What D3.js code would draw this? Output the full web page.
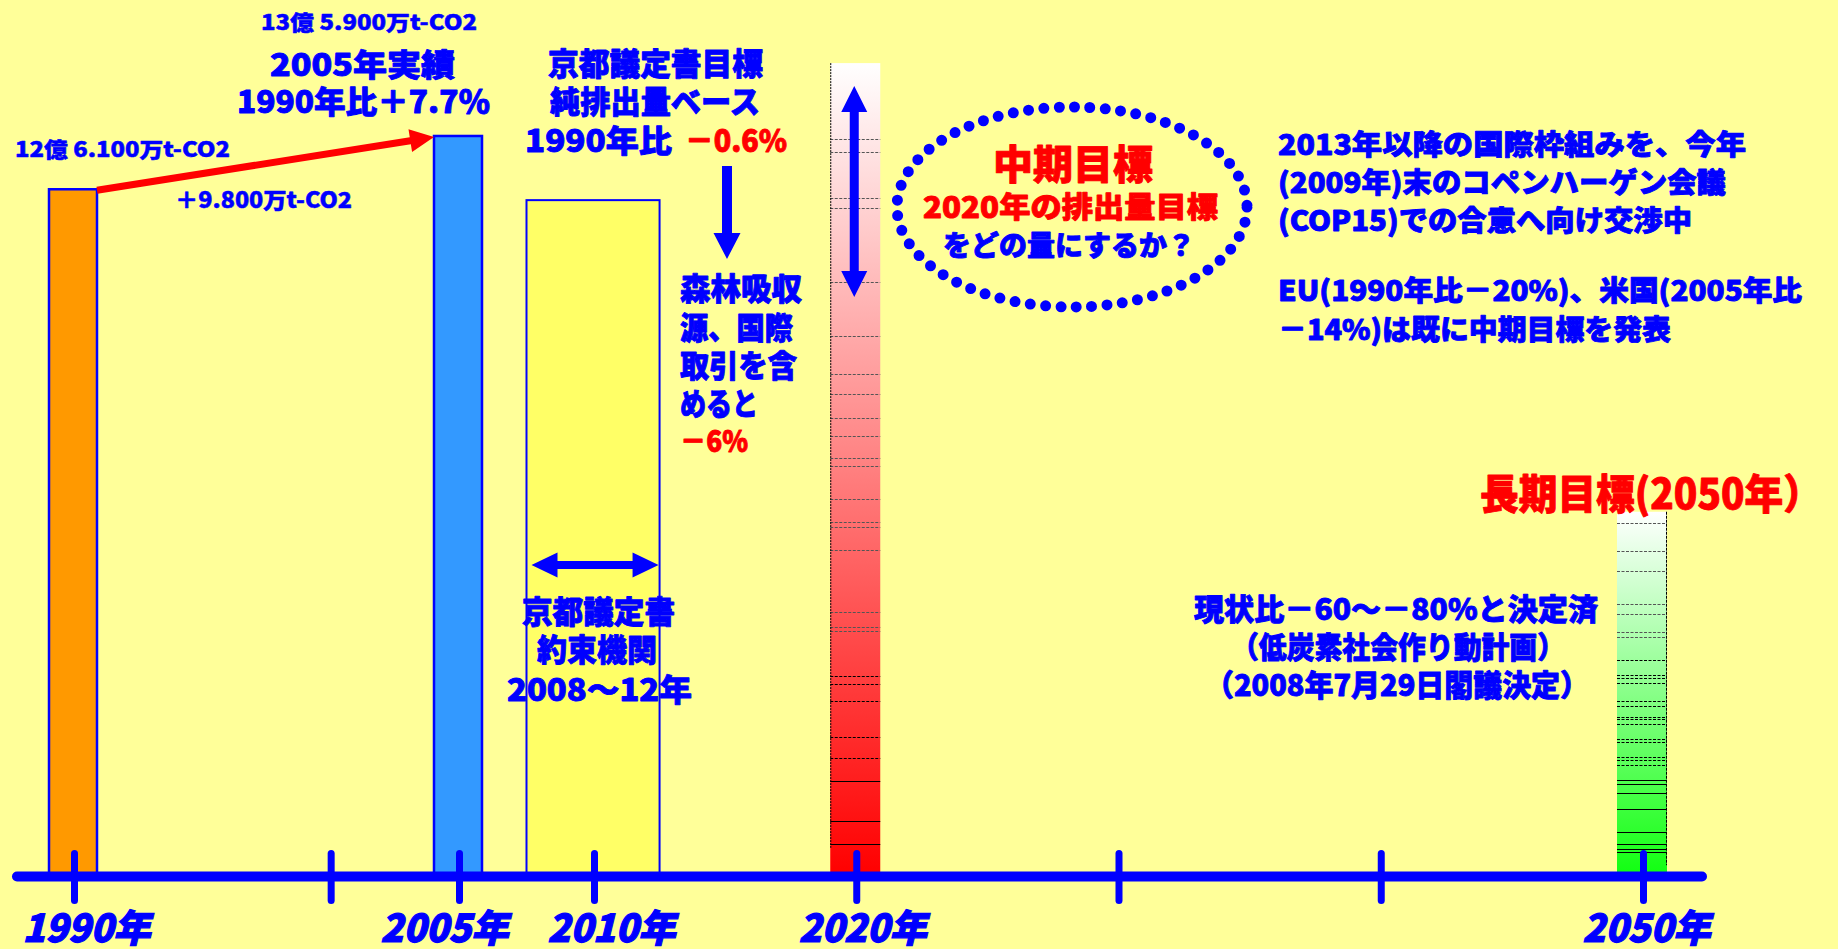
<!DOCTYPE html>
<html>
<head>
<meta charset="utf-8">
<script src="https://cdn.jsdelivr.net/npm/d3@7"></script>
<style>
  html, body { margin: 0; padding: 0; background: #FFFF99; }
  svg { display: block; }
</style>
</head>
<body>
<div id="chart"></div>
<script>
// emissions, million t-CO2
const emissionYears = [1990, 2005];
const emissionValues = [1261, 1359];
const emissionColors = ["#FF9900", "#3399FF"];

// Kyoto commitment period and its net target
const kyotoPeriod = [2007.5, 2012.5];
const kyotoTarget = 1241;

// mid term (2020) and long term (2050) target columns
const targetYears = [2020, 2050];
const targetTops = [1493, 668];
const targetColors = ["#FF0000", "#11FF11"];

// stripe lines seen inside the gradient columns
const midStripes = [1353, 1330, 1245, 1227, 1090, 991, 921, 885, 840, 807, 767, 752, 691, 649, 640, 598,
  484, 456, 449, 366, 351, 320, 254, 215, 173, 99, 57];
const longStripes = [647, 596, 559, 498, 480, 447, 438, 395, 368, 362, 353, 320, 311, 291, 287, 278,
  250, 245, 217, 211, 202, 175, 167, 151, 121, 79, 57, 48, 42];

const tickYears = [1990, 2000, 2005, 2010, 2020, 2030, 2040, 2050];
const labelYears = [1990, 2005, 2010, 2020, 2050];

const W = 1838, H = 949;
const BLUE = "#0000FF", RED = "#FF0000";
const FONT = '"Noto Sans CJK JP", "Noto Sans", sans-serif';

const svg = d3.select("#chart").append("svg")
  .attr("width", W).attr("height", H)
  .style("font-family", FONT)
  .style("font-weight", 900);

svg.append("rect").attr("width", W).attr("height", H).attr("fill", "#FFFF99");

// scales
var x = d3.scaleLinear().domain([1990, 2005, 2010, 2050]).range([74, 459, 594, 1643]);
var y = d3.scaleLinear().domain([0, 1500]).range([875, 875 - 1500 * 0.5438]);
var axisY = 876.5;
var bw = 48;

// gradients for target columns
var defs = svg.append("defs");
targetColors.forEach(function (c, i) {
  var g = defs.append("linearGradient").attr("id", "grad" + i)
    .attr("x1", 0).attr("y1", 0).attr("x2", 0).attr("y2", 1);
  g.append("stop").attr("offset", "0%").attr("stop-color", "#FFFFFF");
  g.append("stop").attr("offset", "100%").attr("stop-color", c);
});

// actual emission bars
svg.selectAll("rect.emis")
  .data(emissionValues)
  .enter().append("rect")
  .attr("class", "emis")
  .attr("x", (d, i) => x(emissionYears[i]) - bw / 2 - 1)
  .attr("y", d => y(d))
  .attr("width", bw)
  .attr("height", d => y(0) - y(d))
  .attr("fill", (d, i) => emissionColors[i])
  .attr("stroke", BLUE)
  .attr("stroke-width", 2.5);

// Kyoto period bar
svg.append("rect")
  .attr("x", x(kyotoPeriod[0]))
  .attr("y", y(kyotoTarget))
  .attr("width", x(kyotoPeriod[1]) - x(kyotoPeriod[0]))
  .attr("height", y(0) - y(kyotoTarget))
  .attr("fill", "#FFFF66")
  .attr("stroke", BLUE)
  .attr("stroke-width", 2);

// target columns with gradient
svg.selectAll("rect.target")
  .data(targetTops)
  .enter().append("rect")
  .attr("class", "target")
  .attr("x", (d, i) => x(targetYears[i]) - bw / 2 - 2)
  .attr("y", d => y(d))
  .attr("width", bw + 2)
  .attr("height", d => y(0) - y(d))
  .attr("fill", (d, i) => "url(#grad" + i + ")");

function stripes(vals, year) {
  var x0 = x(year) - bw / 2 - 2, x1 = x(year) + bw / 2;
  svg.append("g").selectAll("line")
    .data(vals)
    .enter().append("line")
    .attr("x1", x0).attr("x2", x1)
    .attr("y1", d => Math.round(y(d)) + 0.5)
    .attr("y2", d => Math.round(y(d)) + 0.5)
    .attr("stroke", d => d > 400 ? "#555" : "#000")
    .attr("stroke-width", 1)
    .attr("stroke-dasharray", d => d < 180 ? null : "3 1.5");
}
stripes(midStripes, 2020);
stripes(longStripes, 2050);

// column edges
svg.append("line")
  .attr("x1", x(2020) - bw / 2 - 1.5).attr("x2", x(2020) - bw / 2 - 1.5)
  .attr("y1", y(targetTops[0])).attr("y2", y(50))
  .attr("stroke", "#000").attr("stroke-width", 1).attr("stroke-dasharray", "2 1");
svg.append("line")
  .attr("x1", x(2050) + bw / 2 - 0.5).attr("x2", x(2050) + bw / 2 - 0.5)
  .attr("y1", y(targetTops[1])).attr("y2", y(18))
  .attr("stroke", "#000").attr("stroke-width", 1).attr("stroke-dasharray", "3 1");

// axis
var axisG = svg.append("g").attr("transform", "translate(0," + axisY + ")");
axisG.append("line")
  .attr("x1", x(1990) - 57).attr("x2", x(2050) + 59)
  .attr("stroke", BLUE).attr("stroke-width", 10).attr("stroke-linecap", "round");

axisG.call(d3.axisBottom(x)
  .tickValues(tickYears)
  .tickSizeOuter(0)
  .tickFormat(d => labelYears.includes(d) ? d + "年" : ""));
axisG.select(".domain").remove();
axisG.selectAll(".tick line")
  .attr("y1", -23).attr("y2", 24)
  .attr("stroke", BLUE).attr("stroke-width", 7).attr("stroke-linecap", "round");

var labelShift = { 1990: 12, 2005: -15, 2010: 17, 2020: 6, 2050: 3 };
axisG.selectAll(".tick text")
  .attr("y", 65).attr("dy", 0)
  .attr("x", d => labelShift[d] || 0)
  .attr("fill", BLUE)
  .attr("stroke", BLUE)
  .attr("stroke-width", 1.2)
  .attr("font-family", FONT)
  .attr("font-weight", 900)
  .attr("font-style", "italic")
  .attr("font-size", 38)
  .attr("textLength", d => labelYears.includes(d) ? 128 : null)
  .attr("lengthAdjust", "spacingAndGlyphs");

// arrows
function arrowPts(x1, y1, x2, y2, shaft, headW, headL, both) {
  var dx = x2 - x1, dy = y2 - y1, L = Math.hypot(dx, dy);
  var ux = dx / L, uy = dy / L, nx = -uy, ny = ux;
  var P = (t, s) => [x1 + ux * t + nx * s, y1 + uy * t + ny * s];
  var pts = [];
  if (both) pts.push(P(0, 0), P(headL, headW / 2), P(headL, shaft / 2));
  else pts.push(P(0, shaft / 2));
  pts.push(P(L - headL, shaft / 2), P(L - headL, headW / 2), P(L, 0),
    P(L - headL, -headW / 2), P(L - headL, -shaft / 2));
  if (both) pts.push(P(headL, -shaft / 2), P(headL, -headW / 2));
  else pts.push(P(0, -shaft / 2));
  return pts;
}
function arrow(pts, color) {
  svg.append("path").attr("d", d3.line()(pts) + "Z").attr("fill", color);
}

// growth arrow 1990 -> 2005
arrow(arrowPts(x(1990) + bw / 2 - 1, y(emissionValues[0]) + 1,
  x(2005) - bw / 2 - 1, y(emissionValues[1]) + 1, 7, 23, 24, false), RED);
// down arrow to -6%
arrow(arrowPts(727, 166, 727, 259, 10, 27, 26, false), BLUE);
// range arrow in 2020 column
arrow(arrowPts(x(2020) - 2, 86, x(2020) - 2, 297, 9, 26, 26, true), BLUE);
// Kyoto period arrow
arrow(arrowPts(x(kyotoPeriod[0]) + 5, 565, x(kyotoPeriod[1]) - 1, 565, 8, 25, 26, true), BLUE);

// dotted ellipse
svg.append("ellipse")
  .attr("cx", 1072).attr("cy", 207).attr("rx", 175).attr("ry", 100)
  .attr("fill", "none").attr("stroke", BLUE).attr("stroke-width", 11)
  .attr("stroke-linecap", "round").attr("stroke-dasharray", "0 15.4");

// texts (a thin stroke in the fill colour makes them as heavy as the original pop font)
function label(x0, y0, s, size, fill, len) {
  var t = svg.append("text")
    .attr("x", x0).attr("y", y0)
    .attr("font-size", size)
    .attr("fill", fill || BLUE)
    .attr("stroke", fill || BLUE)
    .attr("stroke-width", size > 25 ? 0.9 : 0.5)
    .attr("stroke-linejoin", "round")
    .text(s);
  if (len) t.attr("textLength", len).attr("lengthAdjust", "spacingAndGlyphs");
  return t;
}

label(15, 157, "12億 6.100万t-CO2", 21, BLUE, 215);
label(261, 30, "13億 5.900万t-CO2", 21, BLUE, 216);
label(270, 76, "2005年実績", 31, BLUE, 185);
label(237, 113, "1990年比＋7.7％", 31, BLUE, 253);
label(175, 208, "＋9.800万t-CO2", 22, BLUE, 177);

label(548, 75, "京都議定書目標", 31, BLUE, 215);
label(550, 113, "純排出量ベース", 31, BLUE, 210);
label(525, 152, "1990年比", 31, BLUE, 147);
label(685, 152, "－0.6%", 31, RED, 102);

label(680, 300, "森林吸収", 31, BLUE, 122);
label(680, 339, "源、国際", 31, BLUE, 113);
label(680, 377, "取引を含", 31, BLUE, 117);
label(680, 415, "めると", 31, BLUE, 78);
label(680, 452, "－6%", 30, RED, 68);

label(522, 623, "京都議定書", 31, BLUE, 153);
label(537, 661, "約束機関", 31, BLUE, 120);
label(507, 701, "2008～12年", 31, BLUE, 185);

label(993, 179, "中期目標", 40, RED, 160);
label(923, 218, "2020年の排出量目標", 29, RED, 295);
label(943, 256, "をどの量にするか？", 28, BLUE, 252);

label(1278, 155, "2013年以降の国際枠組みを、今年", 28, BLUE, 468);
label(1278, 193, "(2009年)末のコペンハーゲン会議", 28, BLUE, 448);
label(1278, 231, "(COP15)での合意へ向け交渉中", 28, BLUE, 414);
label(1278, 301, "EU(1990年比－20%)、米国(2005年比", 28, BLUE, 524);
label(1278, 340, "－14%)は既に中期目標を発表", 28, BLUE, 393);

label(1480, 509, "長期目標(2050年）", 41, RED, 342);
label(1194, 620, "現状比－60～－80%と決定済", 30, BLUE, 404);
label(1231, 658, "（低炭素社会作り動計画）", 30, BLUE, 334);
label(1205, 696, "（2008年7月29日閣議決定）", 30, BLUE, 384);
</script>
</body>
</html>
